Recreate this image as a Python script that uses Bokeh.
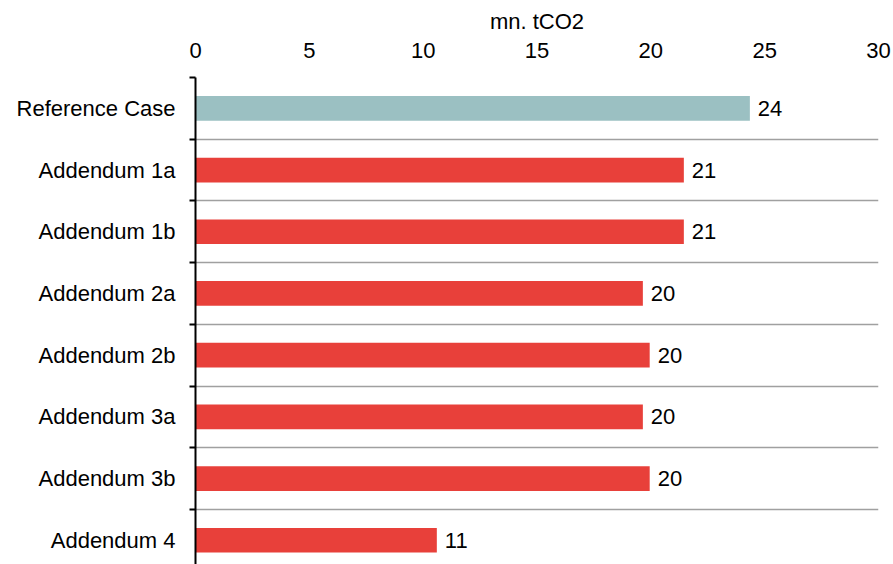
from bokeh.plotting import figure
from bokeh.models import Range1d, FixedTicker, ColumnDataSource
from bokeh.core.properties import value
from bokeh.embed import file_html
from bokeh.resources import INLINE

categories = ["Reference Case", "Addendum 1a", "Addendum 1b", "Addendum 2a",
              "Addendum 2b", "Addendum 3a", "Addendum 3b", "Addendum 4"]
values = [24.35, 21.45, 21.45, 19.65, 19.95, 19.65, 19.95, 10.6]
value_labels = ["24", "21", "21", "20", "20", "20", "20", "11"]
bar_colors = ["#9BC0C2", "#E8403A", "#E8403A", "#E8403A",
              "#E8403A", "#E8403A", "#E8403A", "#E8403A"]
x_ticks = [0, 5, 10, 15, 20, 25, 30]
x_title = "mn. tCO2"

FONT = "Liberation Sans"
FS = "22px"

n = len(categories)
ypos = [n - 1 - i for i in range(n)]
bounds = [k + 0.5 for k in range(-1, n)]

src = ColumnDataSource(dict(y=ypos, v=values, lab=value_labels, color=bar_colors))

p = figure(width=893, height=564, x_range=Range1d(0, 30), y_range=Range1d(-0.393, n - 0.5),
           x_axis_location="above", output_backend="svg", toolbar_location=None,
           min_border_left=195, min_border_right=15, min_border_top=77, min_border_bottom=0)
p.outline_line_color = None
p.background_fill_color = "white"

p.hbar(y="y", left=0, right="v", height=0.4, fill_color="color", line_color=None, source=src)
p.text(x="v", y="y", text="lab", x_offset=8, text_baseline="middle", text_align="left",
       text_font=value(FONT), text_font_size=FS, text_color="black", source=src)

# x axis (top)
xa = p.xaxis[0]
xa.ticker = FixedTicker(ticks=x_ticks)
xa.axis_line_color = None
xa.major_tick_line_color = None
xa.minor_tick_line_color = None
xa.major_label_text_font = FONT
xa.major_label_text_font_size = FS
xa.major_label_text_color = "black"
xa.major_label_standoff = 14
xa.axis_label = x_title
xa.axis_label_text_font = FONT
xa.axis_label_text_font_size = FS
xa.axis_label_text_font_style = "normal"
xa.axis_label_text_color = "black"
xa.axis_label_standoff = 6

# y axis (left)
ya = p.yaxis[0]
ya.ticker = FixedTicker(ticks=ypos, minor_ticks=bounds)
ya.major_label_overrides = {ypos[i]: categories[i] for i in range(n)}
ya.axis_line_color = "black"
ya.axis_line_width = 2
ya.major_tick_line_color = None
ya.minor_tick_line_color = "black"
ya.minor_tick_line_width = 2
ya.minor_tick_out = 6
ya.minor_tick_in = 0
ya.major_label_text_font = FONT
ya.major_label_text_font_size = FS
ya.major_label_text_color = "black"
ya.major_label_standoff = 14

p.xgrid.visible = False
p.ygrid.ticker = FixedTicker(ticks=bounds)
p.ygrid.grid_line_color = "#A0A0A0"
p.ygrid.grid_line_width = 1.3

open("out.html", "w").write(file_html(p, INLINE))
